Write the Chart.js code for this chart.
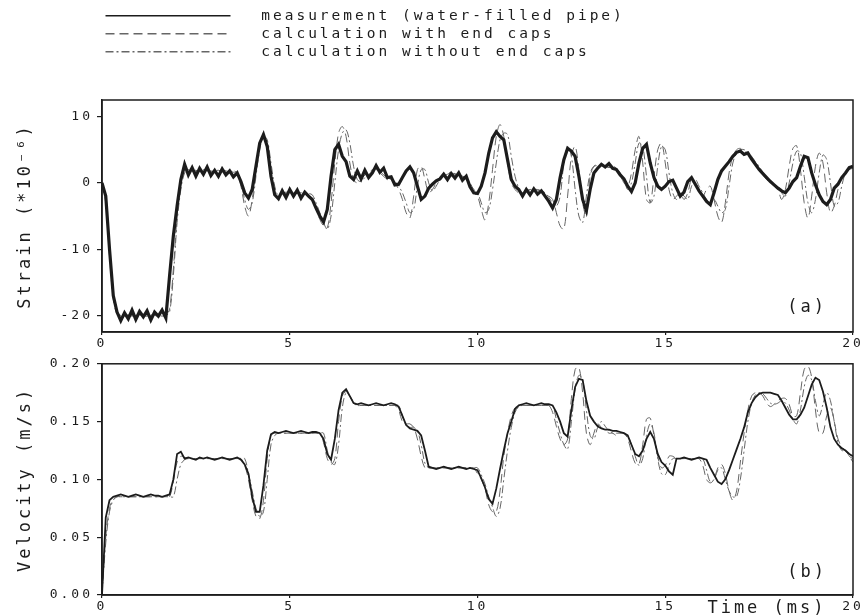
<!DOCTYPE html>
<html>
<head>
<meta charset="utf-8">
<script src="https://cdn.jsdelivr.net/npm/chart.js@4.4.1/dist/chart.umd.min.js"></script>
<style>
html, body { margin: 0; padding: 0; background: #fff; width: 865px; height: 615px; overflow: hidden; }
canvas { position: absolute; left: 0; display: block; }
#strainChart { top: 0; }
#velocityChart { top: 352px; }
</style>
</head>
<body>
<canvas id="strainChart" width="865" height="352"></canvas>
<canvas id="velocityChart" width="865" height="263"></canvas>
<script>
// ---------------- data ----------------
const timeStepMs = 0.1;   // samples are every 0.1 ms from 0 to 20 ms
const seriesNames = ['measurement (water-filled pipe)', 'calculation with end caps', 'calculation without end caps'];
const timeTicks = [0, 5, 10, 15, 20];
const strainTicks = [-20, -10, 0, 10];
const velocityTicks = [0, 0.05, 0.10, 0.15, 0.20];
const panelTags = ['(a)', '(b)'];
const strainTitle = 'Strain (*10\u207B\u2076)';
const velocityTitle = 'Velocity (m/s)';
const timeTitle = 'Time (ms)';

const strainMeasured = [
  0, -2, -10, -17, -19.5, -20.8, -19.6, -20.5, -19.2, -20.6,
  -19.4, -20.2, -19.3, -20.7, -19.5, -20.1, -19.2, -20.4, -14, -8,
  -3.5, 0.5, 2.8, 1.2, 2.3, 1.0, 2.2, 1.3, 2.4, 1.1,
  1.9, 1.0, 2.1, 1.2, 1.8, 0.9, 1.5, 0.2, -1.5, -2.3,
  -1.0, 2.5, 6.0, 7.3, 5.5, 1.0, -1.8, -2.4, -1.2, -2.2,
  -1.0, -2.0, -1.1, -2.3, -1.4, -2.0, -2.5, -3.8, -5.0, -5.9,
  -4.0, 1.0, 5.0, 5.8, 4.0, 3.2, 1.0, 0.5, 1.8, 0.6,
  1.9, 0.8, 1.5, 2.6, 1.6, 2.2, 0.8, 0.9, -0.3, -0.2,
  0.8, 1.8, 2.4, 1.5, -0.5, -2.5, -2.0, -0.8, -0.2, 0.3,
  0.6, 1.3, 0.5, 1.4, 0.7, 1.5, 0.4, 1.0, -0.6, -1.5,
  -1.6, -0.5, 1.5, 4.5, 6.8, 7.7, 7.0, 6.5, 3.5, 0.5,
  -0.5, -1.0, -2.0, -1.0, -1.8, -0.9, -1.7, -1.2, -2.0, -2.8,
  -3.8, -2.5, 0.8, 3.5, 5.2, 4.8, 4.0, 1.0, -2.5, -4.2,
  -1.0, 1.5, 2.2, 2.8, 2.4, 2.9, 2.2, 2.0, 1.2, 0.6,
  -0.5, -1.3, 0.0, 3.0, 5.2, 5.8, 3.0, 0.8, -0.5, -1.0,
  -0.5, 0.2, 0.4, -0.8, -2.0, -1.4, 0.2, 0.8, -0.2, -1.2,
  -2.0, -2.8, -3.3, -1.5, 0.5, 1.8, 2.5, 3.2, 4.0, 4.6,
  4.8, 4.3, 4.5, 3.6, 2.8, 2.0, 1.4, 0.8, 0.2, -0.3,
  -0.8, -1.2, -1.5, -0.8, 0.2, 0.8, 2.5, 4.0, 3.8, 1.5,
  -0.3, -1.8, -2.8, -3.3, -2.5, -0.8, -0.2, 0.8, 1.5, 2.3,
  2.5
];
const strainCalcWithCaps = [
  0, -3, -11, -17.5, -19.8, -20, -20.1, -19.9, -20, -20.1,
  -19.9, -20, -20.1, -19.9, -20, -20.1, -20, -19.9, -19, -13,
  -5, 0, 2, 2.2, 1.9, 1.7, 1.8, 2.0, 1.8, 1.7,
  1.8, 1.9, 1.7, 1.8, 1.7, 1.6, 1.2, -0.5, -3.5, -5,
  -2.5, 2, 6, 7, 5.5, 1.5, -1.5, -2, -1.6, -1.4,
  -1.5, -1.6, -1.4, -1.5, -1.6, -1.8, -2.5, -4, -5.5, -6.5,
  -6.8, -3, 3, 7.5, 8.5, 7, 3, 0.5, 0, 0.5,
  1.2, 1.5, 2.0, 2.2, 1.5, 1.0, 0.5, 0.5, 0, -1,
  -2.5, -4.5, -5.3, -2, 2, 2.5, 0.5, -1.5, -1.0, 0,
  0.8, 1.2, 1.5, 1.5, 1.3, 1.2, 1.0, 0.5, -0.5, -1.5,
  -2, -4, -5.6, -3, 2, 7, 8.8, 7, 3, 0,
  -1, -1.5, -1.5, -1.2, -1, -1, -1.1, -1.2, -1.5, -2,
  -2.5, -4.5, -6.5, -7, -2, 4, 5.5, 2, -3, -5,
  1, 2.5, 2.8, 2.6, 2.5, 2.4, 2.5, 2.2, 1.2, 0,
  -0.5, 1.5, 5, 7, 3, -2.5, -3, 1, 5, 6,
  3, -1, -2.5, -2, -1.5, -2.5, -1.5, 0.5, 0, -1,
  -2, -1, -0.5, -2.5, -5, -6, -3, 1.5, 4, 5,
  5.2, 4.8, 4.5, 3.8, 3, 2, 1.2, 0.5, 0, -0.5,
  -1, -2.5, -1, 2.5, 5.2, 5.6, 2, -3, -5.3, -2,
  2.5, 4.5, 3, -1.5, -4.5, -3.5, -1, 1, 1.5, 2,
  2.5
];
const strainCalcWithoutCaps = [
  0, -2.5, -10, -17, -19.5, -20, -19.9, -20, -20.1, -20,
  -19.9, -20, -20.1, -20, -19.9, -20, -20.1, -20, -19.5, -14,
  -6, -1, 1.5, 2, 1.8, 1.9, 1.7, 1.8, 1.9, 1.8,
  1.7, 1.8, 1.9, 1.8, 1.7, 1.8, 1.5, 0, -2.5, -4,
  -3, 1, 5, 7, 6.5, 3, -0.5, -2, -1.5, -1.6,
  -1.4, -1.5, -1.6, -1.5, -1.4, -1.6, -1.8, -3, -4.5, -6,
  -7, -5, 0, 5, 7.5, 8, 6, 2.5, 0.5, 0.2,
  0.8, 1.2, 1.8, 2.0, 1.8, 1.2, 0.8, 0.5, 0.2, -0.5,
  -1.5, -3, -4.5, -4, -0.5, 2, 2, 0, -1.2, -0.5,
  0.5, 1.0, 1.3, 1.5, 1.4, 1.2, 1.0, 0.8, 0, -1,
  -1.5, -3, -4.5, -4, -1, 3, 6.5, 7.5, 7.3, 4,
  1, -0.8, -1.5, -1.2, -1.1, -1, -1, -1.2, -1.5, -2.2,
  -3, -3.5, -2, 3, 5.5, 4, -1, -5, -6, -2,
  1.5, 2.5, 2.6, 2.7, 2.5, 2.3, 2.4, 2.2, 1.5, 0.5,
  -1, 0, 3, 6, 5.5, 1, -3, -2, 2.5, 5.5,
  5, 1.5, -1.5, -2.5, -1.5, -2, -2.5, -0.5, 0.5, -0.5,
  -1.5, -2.5, -3, -2.5, -3.5, -4.5, -4, -0.5, 3, 4.5,
  5, 5, 4.6, 4, 3.2, 2.5, 1.6, 0.8, 0.2, -0.3,
  -0.5, -1.5, -2, 0, 3, 4.8, 4.5, 1, -3, -4.5,
  -2.5, 1.5, 4.2, 3.5, 0, -3.5, -3, -0.5, 1.5, 2,
  2.2
];
const velocityMeasured = [
  0, 0.067, 0.082, 0.085, 0.086, 0.087, 0.086, 0.085, 0.086, 0.087,
  0.086, 0.085, 0.086, 0.087, 0.086, 0.086, 0.085, 0.086, 0.087, 0.100,
  0.122, 0.124, 0.118, 0.119, 0.118, 0.117, 0.119, 0.118, 0.119, 0.118,
  0.117, 0.118, 0.119, 0.118, 0.117, 0.118, 0.119, 0.117, 0.113, 0.105,
  0.085, 0.072, 0.072, 0.095, 0.125, 0.139, 0.141, 0.140, 0.141, 0.142,
  0.141, 0.140, 0.141, 0.142, 0.141, 0.140, 0.141, 0.141, 0.140, 0.135,
  0.122, 0.117, 0.135, 0.160, 0.175, 0.178, 0.172, 0.166, 0.165, 0.166,
  0.165, 0.164, 0.165, 0.166, 0.165, 0.164, 0.165, 0.166, 0.165, 0.163,
  0.155, 0.147, 0.144, 0.143, 0.142, 0.138, 0.125, 0.111, 0.110, 0.109,
  0.110, 0.111, 0.110, 0.109, 0.110, 0.111, 0.110, 0.109, 0.110, 0.109,
  0.108, 0.101, 0.093, 0.083, 0.079, 0.092, 0.109, 0.125, 0.140, 0.150,
  0.161, 0.164, 0.165, 0.166, 0.165, 0.164, 0.165, 0.166, 0.165, 0.165,
  0.164, 0.158, 0.150, 0.140, 0.137, 0.160, 0.180, 0.187, 0.186, 0.168,
  0.155, 0.150, 0.146, 0.144, 0.143, 0.143, 0.142, 0.142, 0.141, 0.140,
  0.138, 0.130, 0.122, 0.120, 0.125, 0.135, 0.141, 0.135, 0.122, 0.115,
  0.112, 0.107, 0.104, 0.118, 0.118, 0.119, 0.118, 0.117, 0.118, 0.119,
  0.118, 0.117, 0.110, 0.104, 0.098, 0.096, 0.100, 0.108, 0.117, 0.126,
  0.135, 0.145, 0.158, 0.166, 0.171, 0.174, 0.175, 0.175, 0.175, 0.174,
  0.173, 0.168, 0.162, 0.156, 0.152, 0.152, 0.156, 0.162, 0.172, 0.182,
  0.188, 0.186, 0.176, 0.162, 0.145, 0.135, 0.130, 0.127, 0.125, 0.122,
  0.120
];
const velocityCalcWithCaps = [
  0, 0.050, 0.075, 0.083, 0.085, 0.085, 0.085, 0.085, 0.085, 0.085,
  0.085, 0.085, 0.085, 0.085, 0.085, 0.085, 0.085, 0.085, 0.085, 0.098,
  0.115, 0.120, 0.119, 0.118, 0.118, 0.118, 0.118, 0.118, 0.118, 0.118,
  0.118, 0.118, 0.118, 0.118, 0.118, 0.118, 0.118, 0.118, 0.112, 0.100,
  0.082, 0.068, 0.066, 0.082, 0.118, 0.138, 0.140, 0.140, 0.140, 0.140,
  0.140, 0.140, 0.140, 0.140, 0.140, 0.140, 0.140, 0.140, 0.140, 0.132,
  0.118, 0.113, 0.118, 0.150, 0.172, 0.176, 0.172, 0.166, 0.164, 0.164,
  0.164, 0.164, 0.164, 0.164, 0.164, 0.164, 0.164, 0.164, 0.164, 0.160,
  0.150, 0.148, 0.148, 0.145, 0.135, 0.120, 0.110, 0.110, 0.110, 0.110,
  0.110, 0.110, 0.110, 0.110, 0.110, 0.110, 0.110, 0.110, 0.110, 0.110,
  0.105, 0.100, 0.092, 0.078, 0.072, 0.072, 0.090, 0.120, 0.140, 0.155,
  0.162, 0.164, 0.164, 0.164, 0.164, 0.164, 0.164, 0.164, 0.164, 0.164,
  0.158, 0.146, 0.135, 0.130, 0.135, 0.170, 0.195, 0.197, 0.175, 0.140,
  0.130, 0.140, 0.148, 0.145, 0.143, 0.140, 0.140, 0.138, 0.140, 0.140,
  0.135, 0.124, 0.114, 0.113, 0.130, 0.152, 0.153, 0.138, 0.120, 0.110,
  0.112, 0.120, 0.120, 0.118, 0.118, 0.118, 0.118, 0.118, 0.118, 0.118,
  0.112, 0.100, 0.097, 0.100, 0.110, 0.113, 0.105, 0.090, 0.082, 0.090,
  0.115, 0.140, 0.160, 0.172, 0.175, 0.175, 0.172, 0.166, 0.163, 0.165,
  0.168, 0.170, 0.170, 0.165, 0.155, 0.155, 0.175, 0.195, 0.198, 0.188,
  0.160, 0.140, 0.140, 0.155, 0.162, 0.150, 0.135, 0.128, 0.125, 0.120,
  0.115
];
const velocityCalcWithoutCaps = [
  0, 0.045, 0.072, 0.082, 0.085, 0.085, 0.085, 0.085, 0.085, 0.085,
  0.085, 0.085, 0.085, 0.085, 0.085, 0.085, 0.085, 0.085, 0.085, 0.085,
  0.100, 0.113, 0.117, 0.118, 0.118, 0.118, 0.118, 0.118, 0.118, 0.118,
  0.118, 0.118, 0.118, 0.118, 0.118, 0.118, 0.118, 0.118, 0.118, 0.105,
  0.090, 0.075, 0.068, 0.072, 0.100, 0.130, 0.138, 0.140, 0.140, 0.140,
  0.140, 0.140, 0.140, 0.140, 0.140, 0.140, 0.140, 0.140, 0.140, 0.140,
  0.125, 0.115, 0.113, 0.130, 0.162, 0.175, 0.172, 0.167, 0.164, 0.164,
  0.164, 0.164, 0.164, 0.164, 0.164, 0.164, 0.164, 0.164, 0.164, 0.164,
  0.155, 0.147, 0.145, 0.145, 0.142, 0.130, 0.114, 0.110, 0.110, 0.110,
  0.110, 0.110, 0.110, 0.110, 0.110, 0.110, 0.110, 0.110, 0.110, 0.110,
  0.110, 0.104, 0.096, 0.085, 0.076, 0.068, 0.075, 0.100, 0.125, 0.145,
  0.158, 0.163, 0.164, 0.164, 0.164, 0.164, 0.164, 0.164, 0.164, 0.164,
  0.164, 0.152, 0.140, 0.130, 0.126, 0.150, 0.178, 0.190, 0.186, 0.160,
  0.138, 0.135, 0.145, 0.150, 0.146, 0.142, 0.140, 0.140, 0.140, 0.140,
  0.138, 0.130, 0.120, 0.112, 0.118, 0.138, 0.148, 0.140, 0.118, 0.105,
  0.104, 0.112, 0.118, 0.118, 0.118, 0.118, 0.118, 0.118, 0.118, 0.118,
  0.118, 0.108, 0.098, 0.100, 0.108, 0.110, 0.100, 0.090, 0.085, 0.085,
  0.100, 0.125, 0.150, 0.166, 0.173, 0.175, 0.174, 0.170, 0.166, 0.165,
  0.166, 0.168, 0.166, 0.160, 0.152, 0.148, 0.160, 0.180, 0.190, 0.186,
  0.168, 0.155, 0.165, 0.175, 0.168, 0.150, 0.132, 0.125, 0.125, 0.120,
  0.118
];

// ---------------- helpers ----------------
const FONT = "'DejaVu Sans Mono', monospace";
const INK = '#1c1c1c';
const GREY = '#666666';
Chart.defaults.font.family = FONT;
Chart.defaults.color = INK;

const toPoints = vals => vals.map((v, i) => ({ x: Math.round(i * timeStepMs * 10) / 10, y: v }));

function makeDatasets(measured, withCaps, withoutCaps, measuredWidth) {
  return [
    { label: seriesNames[0], data: toPoints(measured), borderColor: INK, borderWidth: measuredWidth,
      pointRadius: 0, tension: 0, fill: false },
    { label: seriesNames[1], data: toPoints(withCaps), borderColor: GREY, borderWidth: 1,
      borderDash: [9, 5], pointRadius: 0, tension: 0.35, fill: false },
    { label: seriesNames[2], data: toPoints(withoutCaps), borderColor: GREY, borderWidth: 1,
      borderDash: [8, 3, 2, 3], pointRadius: 0, tension: 0.35, fill: false }
  ];
}

// letter spacing for the wide plotter-style lettering
const textSpacing = {
  id: 'textSpacing',
  afterInit(c) { c.ctx.letterSpacing = '3px'; },
  beforeUpdate(c) { c.ctx.letterSpacing = '3px'; },
  beforeDraw(c) { c.ctx.letterSpacing = '3px'; }
};
// fixed height of the legend block above panel (a)
const legendBlock = {
  id: 'legendBlock',
  afterInit(c, args, opts) {
    const lg = c.legend;
    if (!lg) return;
    const baseFit = lg.fit;
    lg.fit = function () { baseFit.call(this); this.height = opts.height; };
  }
};
// full box around each panel plus its (a)/(b) tag
const panelFrame = {
  id: 'panelFrame',
  afterDatasetsDraw(c, args, opts) {
    const { ctx, chartArea: a } = c;
    ctx.save();
    ctx.strokeStyle = INK;
    ctx.lineWidth = 1.5;
    ctx.strokeRect(a.left, a.top, a.right - a.left, a.bottom - a.top);
    ctx.font = '17px ' + FONT;
    ctx.fillStyle = INK;
    ctx.textAlign = 'right';
    ctx.textBaseline = 'middle';
    ctx.fillText(opts.tag, a.right - opts.dx, a.bottom - opts.dy);
    ctx.restore();
  }
};

function xScale(extra) {
  return Object.assign({
    type: 'linear', min: 0, max: 20,
    afterBuildTicks: s => { s.ticks = timeTicks.map(v => ({ value: v })); },
    afterFit: s => { s.height = 20; },
    grid: { drawOnChartArea: false, tickLength: 3, color: INK, lineWidth: 1.2 },
    border: { color: INK, width: 1.5 },
    ticks: { padding: 1, maxRotation: 0, autoSkip: false, font: { size: 13 }, color: INK, callback: v => String(v) }
  }, extra || {});
}
function yScale(min, max, tickVals, fmt, title) {
  return {
    type: 'linear', min: min, max: max,
    afterBuildTicks: s => { s.ticks = tickVals.map(v => ({ value: v })); },
    afterFit: s => { s.width = 102; },
    grid: { drawOnChartArea: false, tickLength: 5, color: INK, lineWidth: 1.2 },
    border: { color: INK, width: 1.5 },
    ticks: { padding: 4, autoSkip: false, font: { size: 13 }, color: INK, callback: fmt },
    title: { display: true, text: title, color: INK, font: { size: 17 }, padding: { top: 15, bottom: 0 } }
  };
}

// ---------------- panel (a): strain, with legend ----------------
new Chart(document.getElementById('strainChart'), {
  type: 'line',
  data: { datasets: makeDatasets(strainMeasured, strainCalcWithCaps, strainCalcWithoutCaps, 3.2) },
  options: {
    responsive: false, animation: false, devicePixelRatio: 1,
    layout: { padding: { top: 5, right: 12, left: 0, bottom: 0 } },
    plugins: {
      legend: {
        display: true, position: 'top', align: 'start', fullSize: false,
        labels: {
          usePointStyle: true, pointStyle: 'line', pointStyleWidth: 125, padding: 3.5,
          color: INK, font: { size: 14.5, family: FONT },
          generateLabels(chart) {
            return Chart.defaults.plugins.legend.labels.generateLabels(chart).map(item => {
              const ds = chart.data.datasets[item.datasetIndex];
              return Object.assign({}, item, {
                text: '  ' + item.text,
                lineWidth: 1.3,
                strokeStyle: ds.borderColor,
                lineDash: ds.borderDash || []
              });
            });
          }
        }
      },
      tooltip: { enabled: false },
      legendBlock: { height: 95 },
      panelFrame: { tag: panelTags[0], dx: 26, dy: 24 }
    },
    scales: {
      x: xScale(),
      y: yScale(-22.5, 12.5, strainTicks, v => String(v), strainTitle)
    }
  },
  plugins: [textSpacing, legendBlock, panelFrame]
});

// ---------------- panel (b): velocity ----------------
new Chart(document.getElementById('velocityChart'), {
  type: 'line',
  data: { datasets: makeDatasets(velocityMeasured, velocityCalcWithCaps, velocityCalcWithoutCaps, 1.8) },
  options: {
    responsive: false, animation: false, devicePixelRatio: 1,
    layout: { padding: { top: 9, right: 12, left: 0, bottom: 0 } },
    plugins: {
      legend: { display: false },
      tooltip: { enabled: false },
      panelFrame: { tag: panelTags[1], dx: 26, dy: 22 }
    },
    scales: {
      x: xScale({
        title: { display: true, text: timeTitle + '  ', align: 'end', color: INK,
                 font: { size: 17 }, padding: { top: 0, bottom: -4 } }
      }),
      y: yScale(0, 0.2, velocityTicks, v => Number(v).toFixed(2), velocityTitle)
    }
  },
  plugins: [textSpacing, panelFrame]
});
</script>
</body>
</html>
